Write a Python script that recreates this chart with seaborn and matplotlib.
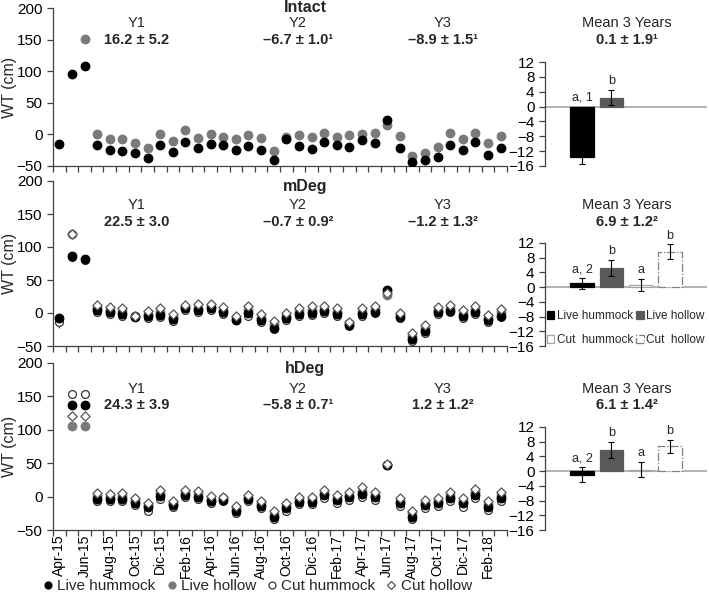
import numpy as np
import pandas as pd
import matplotlib
matplotlib.use("Agg")
import matplotlib.pyplot as plt
import seaborn as sns
from matplotlib.lines import Line2D
from matplotlib.patches import Patch

nan = np.nan

# ---- data ----
months = list(range(36))  # Apr-15 .. Mar-18
month_labels = ["Apr-15", "Jun-15", "Aug-15", "Oct-15", "Dic-15", "Feb-16",
                "Apr-16", "Jun-16", "Aug-16", "Oct-16", "Dic-16", "Feb-17",
                "Apr-17", "Jun-17", "Aug-17", "Oct-17", "Dic-17", "Feb-18"]
series_names = ["Live hummock", "Live hollow", "Cut hummock", "Cut hollow"]

intact_live_hummock = [-15, 95, 109, -17, -25, -26, -29, -37, -16, -28, -12, -22,
                       -15, -16, -25, -18, -25, -41, -7, -19, -23, -12, -16, -20,
                       -9, -13, 23, -22, -44, -41, -35, -17, -25, -12, -32, -21]
intact_live_hollow = [nan, nan, 151, 0, -8, -8, -13, -21, 0, -11, 7, -5,
                      1, -4, -7, -1, -6, -26, -4, -1, -4, 3, -4, -1,
                      0, 2, 15, -3, -34, -30, -20, 2, -7, 3, -14, -3]

mdeg_live_hummock = [-7, 87, 82, 4, 1, -1, -6, -4, -3, -9, 7, 5,
                     8, 2, -10, 0, -11, -22, -8, -1, 0, 3, -2, -18,
                     -2, 2, 35, -6, -40, -27, 1, 3, -5, 1, -11, -4]
mdeg_live_hollow = [nan, 119, nan, 8, 5, 3, -5, -1, 2, -6, 9, 8,
                    10, 5, -7, 4, -8, -16, -4, 3, 5, 6, 2, -15,
                    2, 6, 28, -3, -35, -22, 5, 7, 0, 6, -7, 1]
mdeg_cut_hummock = [-14, 85, 80, 2, -2, -4, -5, -7, -6, -12, 5, 2,
                    5, -2, -11, -4, -14, -24, -10, -4, -3, 0, -4, -19,
                    -5, 0, 33, -7, -43, -30, -1, 1, -8, -1, -13, -6]
mdeg_cut_hollow = [nan, 119, nan, 12, 9, 7, -4, 3, 7, -2, 12, 13,
                   14, 9, -5, 11, -2, -12, 0, 7, 10, 10, 7, -13,
                   7, 11, 30, 0, -31, -18, 9, 12, 4, 10, -3, 6]

hdeg_live_hummock = [nan, 137, 137, -3, -4, -3, -9, -16, 1, -12, 3, 0,
                     -6, -5, -21, -4, -14, -30, -17, -8, -8, 2, -5, -1,
                     4, -1, 47, -10, -30, -13, -10, -2, -10, 2, -15, -2]
hdeg_live_hollow = [nan, 105, 105, 1, 0, 1, -5, -13, 6, -9, 7, 5,
                    -3, -2, -17, -1, -10, -26, -13, -4, -4, 6, -1, 3,
                    9, 3, 48, -6, -25, -9, -6, 3, -6, 7, -11, 3]
hdeg_cut_hummock = [nan, 153, 153, -6, -7, -7, -12, -21, -3, -16, 0, -4,
                    -10, -7, -24, -6, -17, -33, -21, -11, -11, -2, -9, -5,
                    0, -5, 48, -14, -34, -17, -14, -6, -15, -2, -20, -6]
hdeg_cut_hollow = [nan, 121, 121, 5, 4, 5, -2, -10, 10, -6, 10, 9,
                   1, 0, -14, 2, -7, -22, -10, -1, 0, 10, 2, 7,
                   14, 7, 49, -2, -21, -5, -2, 7, -2, 11, -7, 7]

# (panel, series, month, standard error) for the few visible whiskers
point_errors = [("Intact", "Live hollow", 2, 6), ("mDeg", "Cut hummock", 0, 8)]

# 3-year means for the bar insets
intact_bar_mean = [-13.5, 2.4]
intact_bar_se = [1.9, 2.0]
intact_letters = ["a, 1", "b"]
mdeg_bar_mean = [1.0, 5.3, 0.5, 9.6]
mdeg_bar_se = [1.5, 2.2, 1.6, 2.0]
mdeg_letters = ["a, 2", "b", "a", "b"]
hdeg_bar_mean = [-1.0, 5.8, 0.4, 6.8]
hdeg_bar_se = [2.0, 2.1, 2.0, 1.8]
hdeg_letters = ["a, 2", "b", "a", "b"]

panel_titles = ["Intact", "mDeg", "hDeg"]
year_names = ["Y1", "Y2", "Y3"]
year_means = [["16.2 ± 5.2", "–6.7 ± 1.0¹", "–8.9 ± 1.5¹"],
              ["22.5 ± 3.0", "–0.7 ± 0.9²", "–1.2 ± 1.3²"],
              ["24.3 ± 3.9", "–5.8 ± 0.7¹", "1.2 ± 1.2²"]]
overall_means = ["0.1 ± 1.9¹", "6.9 ± 1.2²", "6.1 ± 1.4²"]

# ---- styling ----
sns.set_style("ticks")
plt.rcParams["font.family"] = ["Liberation Sans", "DejaVu Sans"]
plt.rcParams["font.size"] = 11
plt.rcParams["axes.unicode_minus"] = True

AX_COL = "#404040"
marker_style = {
    "Live hummock": dict(marker="o", color="black", edgecolor="black", s=38),
    "Live hollow": dict(marker="o", color="#7a7a7a", edgecolor="#7a7a7a", s=38),
    "Cut hummock": dict(marker="o", color="white", edgecolor="#333333", s=32),
    "Cut hollow": dict(marker="D", color="white", edgecolor="#555555", s=22),
}
draw_order = ["Live hollow", "Cut hummock", "Live hummock", "Cut hollow"]
bar_face = {"Live hummock": "black", "Live hollow": "#595959",
            "Cut hummock": "white", "Cut hollow": "white"}
bar_edge = {"Live hummock": "black", "Live hollow": "#595959",
            "Cut hummock": "#a6a6a6", "Cut hollow": "#7f7f7f"}
bar_ls = {"Live hummock": "-", "Live hollow": "-",
          "Cut hummock": "-", "Cut hollow": "-."}

W, H = 709, 600
fig = plt.figure(figsize=(W / 100, H / 100), dpi=100)


def px_axes(left, top, right, bottom):
    return fig.add_axes([left / W, 1 - bottom / H, (right - left) / W, (bottom - top) / H])


def style_spines(ax):
    sns.despine(ax=ax)
    for s in ["left", "bottom"]:
        ax.spines[s].set_color(AX_COL)
        ax.spines[s].set_linewidth(0.9)
    ax.tick_params(colors=AX_COL, labelcolor="black", width=0.9, length=4, direction="out")


def draw_series(ax, title, data):
    df = pd.DataFrame({"month": months, **data})
    long = df.melt(id_vars="month", var_name="series", value_name="WT")
    for name in draw_order:
        if name not in data:
            continue
        sub = long[long["series"] == name]
        st = marker_style[name]
        sns.scatterplot(data=sub, x="month", y="WT", ax=ax, marker=st["marker"],
                        color=st["color"], edgecolor=st["edgecolor"], s=st["s"],
                        linewidth=0.9, legend=False, zorder=3)
    for pname, sname, m, se in point_errors:
        if pname == title:
            ax.errorbar(m, data[sname][m], yerr=se, fmt="none", ecolor="#555555",
                        elinewidth=0.8, zorder=2)
    ax.set_xlim(-0.5, 35.5)
    ax.set_ylim(-50, 200)
    ax.set_yticks([-50, 0, 50, 100, 150, 200])
    style_spines(ax)
    ax.set_xticks(months[::2])
    ax.set_xticks(np.arange(-0.5, 36, 1), minor=True)
    ax.tick_params(axis="x", which="major", length=0, pad=3)
    ax.tick_params(axis="x", which="minor", length=4, width=0.9, colors=AX_COL)
    ax.set_xlabel("")
    ax.set_ylabel("WT (cm)", fontsize=11.5)
    ax.yaxis.set_label_coords(-0.080, 0.5)


def draw_means(ax, means, ses, letters, legend=False):
    groups = series_names[:len(means)]
    bars = pd.DataFrame({"group": groups, "mean": means, "se": ses, "letter": letters})
    bars["period"] = "Mean 3 Years"
    ax.axhline(0, color="#a6a6a6", lw=1.2, zorder=0.5)
    sns.barplot(data=bars, x="period", y="mean", hue="group", hue_order=series_names,
                palette=bar_face, saturation=1, width=0.724, gap=0.21,
                errorbar=None, legend=False, linewidth=0.9, ax=ax)
    for patch, (_, row) in zip(ax.patches, bars.iterrows()):
        name = row["group"]
        patch.set_edgecolor(bar_edge[name])
        patch.set_linestyle(bar_ls[name])
        xc = patch.get_x() + patch.get_width() / 2
        ax.errorbar(xc, row["mean"], yerr=row["se"], fmt="none", ecolor="black",
                    elinewidth=0.8, capsize=2, capthick=0.8, zorder=4)
        ax.text(xc, max(row["mean"] + row["se"], 0) + 0.8, row["letter"],
                ha="center", va="bottom", fontsize=9)
    ax.set_xlim(-0.5, 0.5)
    ax.set_ylim(-16, 12)
    ax.set_yticks([12, 8, 4, 0, -4, -8, -12, -16])
    ax.set_xticks([])
    ax.set_xlabel("")
    ax.set_ylabel("")
    style_spines(ax)
    ax.spines["bottom"].set_visible(False)
    if legend:
        # column-major filling: order so rows read live / cut
        order = ["Live hummock", "Cut hummock", "Live hollow", "Cut hollow"]
        text = {"Live hummock": "Live hummock", "Live hollow": "Live hollow",
                "Cut hummock": "Cut  hummock", "Cut hollow": "Cut  hollow"}
        handles = [Patch(facecolor=bar_face[n], edgecolor=bar_edge[n], linestyle=bar_ls[n],
                         linewidth=0.9) for n in order]
        ax.legend(handles, [text[n] for n in order],
                  ncol=2, loc="lower left", bbox_to_anchor=(0.01, 0.0), frameon=False,
                  fontsize=8.5, handlelength=0.6, handleheight=0.6, handletextpad=0.25,
                  columnspacing=0.3, labelspacing=1.0, borderpad=0, borderaxespad=0)


ts_boxes = [(53, 8, 507, 166), (53, 181, 507, 346), (53, 363, 507, 530)]
bar_boxes = [(545, 62, 707, 166), (545, 243, 707, 346), (545, 427, 707, 530)]

panel_data = [
    {"Live hummock": intact_live_hummock, "Live hollow": intact_live_hollow},
    {"Live hummock": mdeg_live_hummock, "Live hollow": mdeg_live_hollow,
     "Cut hummock": mdeg_cut_hummock, "Cut hollow": mdeg_cut_hollow},
    {"Live hummock": hdeg_live_hummock, "Live hollow": hdeg_live_hollow,
     "Cut hummock": hdeg_cut_hummock, "Cut hollow": hdeg_cut_hollow},
]
bar_data = [(intact_bar_mean, intact_bar_se, intact_letters),
            (mdeg_bar_mean, mdeg_bar_se, mdeg_letters),
            (hdeg_bar_mean, hdeg_bar_se, hdeg_letters)]

title_y = [7, 187, 368]
year_y = [23, 205, 389]
value_y = [40, 222, 405]
year_x = [137, 298, 443]

for i in range(3):
    ax = px_axes(*ts_boxes[i])
    draw_series(ax, panel_titles[i], panel_data[i])
    if i == 2:
        ax.set_xticklabels(month_labels, rotation=90, fontsize=10)
    else:
        ax.set_xticklabels([])
    bx = px_axes(*bar_boxes[i])
    draw_means(bx, *bar_data[i], legend=(i == 1))

    fig.text(305 / W, 1 - title_y[i] / H, panel_titles[i], ha="center", va="center",
             fontsize=11.5, fontweight="bold")
    for j in range(3):
        fig.text(year_x[j] / W, 1 - year_y[i] / H, year_names[j], ha="center", va="center",
                 fontsize=10.5)
        fig.text(year_x[j] / W, 1 - value_y[i] / H, year_means[i][j], ha="center",
                 va="center", fontsize=10.5, fontweight="bold")
    fig.text(627 / W, 1 - year_y[i] / H, "Mean 3 Years", ha="center", va="center",
             fontsize=10.5)
    fig.text(627 / W, 1 - value_y[i] / H, overall_means[i], ha="center", va="center",
             fontsize=10.5, fontweight="bold")

legend_handles = [
    Line2D([], [], ls="none", marker=marker_style[n]["marker"],
           markerfacecolor=marker_style[n]["color"],
           markeredgecolor=marker_style[n]["edgecolor"],
           markersize=5 if n != "Cut hollow" else 4.2, markeredgewidth=0.9)
    for n in series_names
]
fig.legend(legend_handles, series_names, ncol=4, loc="lower center",
           bbox_to_anchor=(258 / W, -0.004), frameon=False, fontsize=11,
           handlelength=0.5, handletextpad=0.35, columnspacing=0.8, borderpad=0.1)

fig.savefig("out.png", dpi=100)
